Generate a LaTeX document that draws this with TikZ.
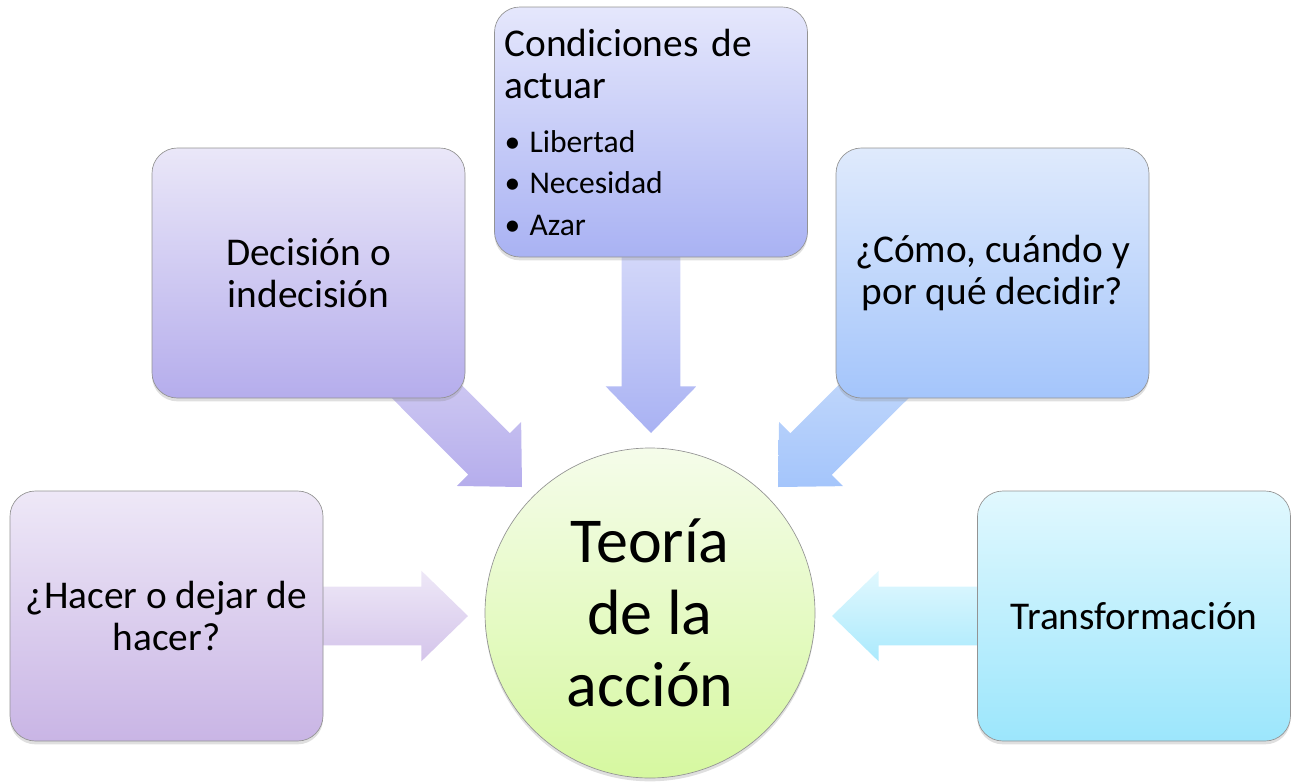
\documentclass[tikz,border=0pt]{standalone}
\usepackage{fontspec}
\setmainfont{Carlito}
\usepackage{tikz}
\usetikzlibrary{calc,shadows,backgrounds}

\definecolor{hacertop}{HTML}{EEE8F7}
\definecolor{hacerbot}{HTML}{C9B5E5}
\definecolor{dectop}{HTML}{EAE7F8}
\definecolor{decbot}{HTML}{B5ADEC}
\definecolor{condtop}{HTML}{E5E7FC}
\definecolor{condbot}{HTML}{A9B2F3}
\definecolor{comotop}{HTML}{DFEAFC}
\definecolor{comobot}{HTML}{A4C5FB}
\definecolor{transtop}{HTML}{E1F8FE}
\definecolor{transbot}{HTML}{9CE6FC}
\definecolor{hubtop}{HTML}{F5FCEA}
\definecolor{hubbot}{HTML}{D6F8A0}

% block arrow: name, start, tip, top colour, bottom colour
\newcommand{\blockarrow}[5]{%
  \coordinate (#1-h) at ($(#3)!35pt!(#2)$);
  \shade[top color=#4,bottom color=#5]
    ($(#2)!22pt!90:(#3)$) -- ($(#1-h)!22pt!90:(#3)$) -- ($(#1-h)!34pt!90:(#3)$) -- (#3)
    -- ($(#1-h)!34pt!-90:(#3)$) -- ($(#1-h)!22pt!-90:(#3)$) -- ($(#2)!22pt!-90:(#3)$) -- cycle;}

\tikzset{
  box/.style={draw=gray!85,line width=0.5pt,rounded corners=19pt,
    minimum width=234.75pt,minimum height=187.5pt,align=center,
    font=\fontsize{29.5}{31.5}\selectfont,
    drop shadow={shadow xshift=0pt,shadow yshift=-2.5pt,opacity=.25}},
  hub/.style={circle,draw=gray!85,line width=0.5pt,minimum size=247.5pt,
    inner sep=0pt,align=center,font=\fontsize{48}{54}\selectfont,
    top color=hubtop,bottom color=hubbot,
    drop shadow={shadow xshift=0pt,shadow yshift=-2.5pt,opacity=.25}}
}

\begin{document}
\begin{tikzpicture}[x=0.75pt,y=-0.75pt]
  \useasboundingbox (0,0) rectangle (1291,782);
  % boxes
  \node[box,top color=hacertop,bottom color=hacerbot] (hacer) at (166.5,616) {¿Hacer o dejar de\\hacer?};
  \node[box,top color=dectop,bottom color=decbot] (decision) at (308.5,273) {Decisión o\\indecisión};
  \node[box,top color=condtop,bottom color=condbot,align=left,text width=219.75pt,inner sep=0pt] (cond) at (651,132)
    {Condiciones de\\actuar\par
     \vspace{9.75pt}\fontsize{23.7}{30.75}\selectfont
     \textbullet\hspace{7pt}Libertad\\
     \textbullet\hspace{7pt}Necesidad\\
     \textbullet\hspace{7pt}Azar};
  \node[box,top color=comotop,bottom color=comobot] (como) at (992.5,273) {¿Cómo, cuándo y\\por qué decidir?};
  \node[box,top color=transtop,bottom color=transbot] (transf) at (1134,616) {Transformación};
  \node[hub] (teoria) at (650,613) {Teoría\\de la\\acción};
  % arrow tips
  \coordinate (tipHacer) at (468,616);
  \coordinate (tipDec) at (522,487);
  \coordinate (tipCond) at (651,433);
  \coordinate (tipComo) at (778,487);
  \coordinate (tipTransf) at (832,616);
  \begin{scope}[on background layer]
    \blockarrow{aHacer}{hacer.center}{tipHacer}{hacertop}{hacerbot!80}
    \blockarrow{aDec}{decision.center}{tipDec}{dectop}{decbot}
    \blockarrow{aCond}{cond.center}{tipCond}{condtop!60}{condbot}
    \blockarrow{aComo}{como.center}{tipComo}{comotop}{comobot}
    \blockarrow{aTransf}{transf.center}{tipTransf}{transtop}{transbot!85}
  \end{scope}
\end{tikzpicture}
\end{document}
